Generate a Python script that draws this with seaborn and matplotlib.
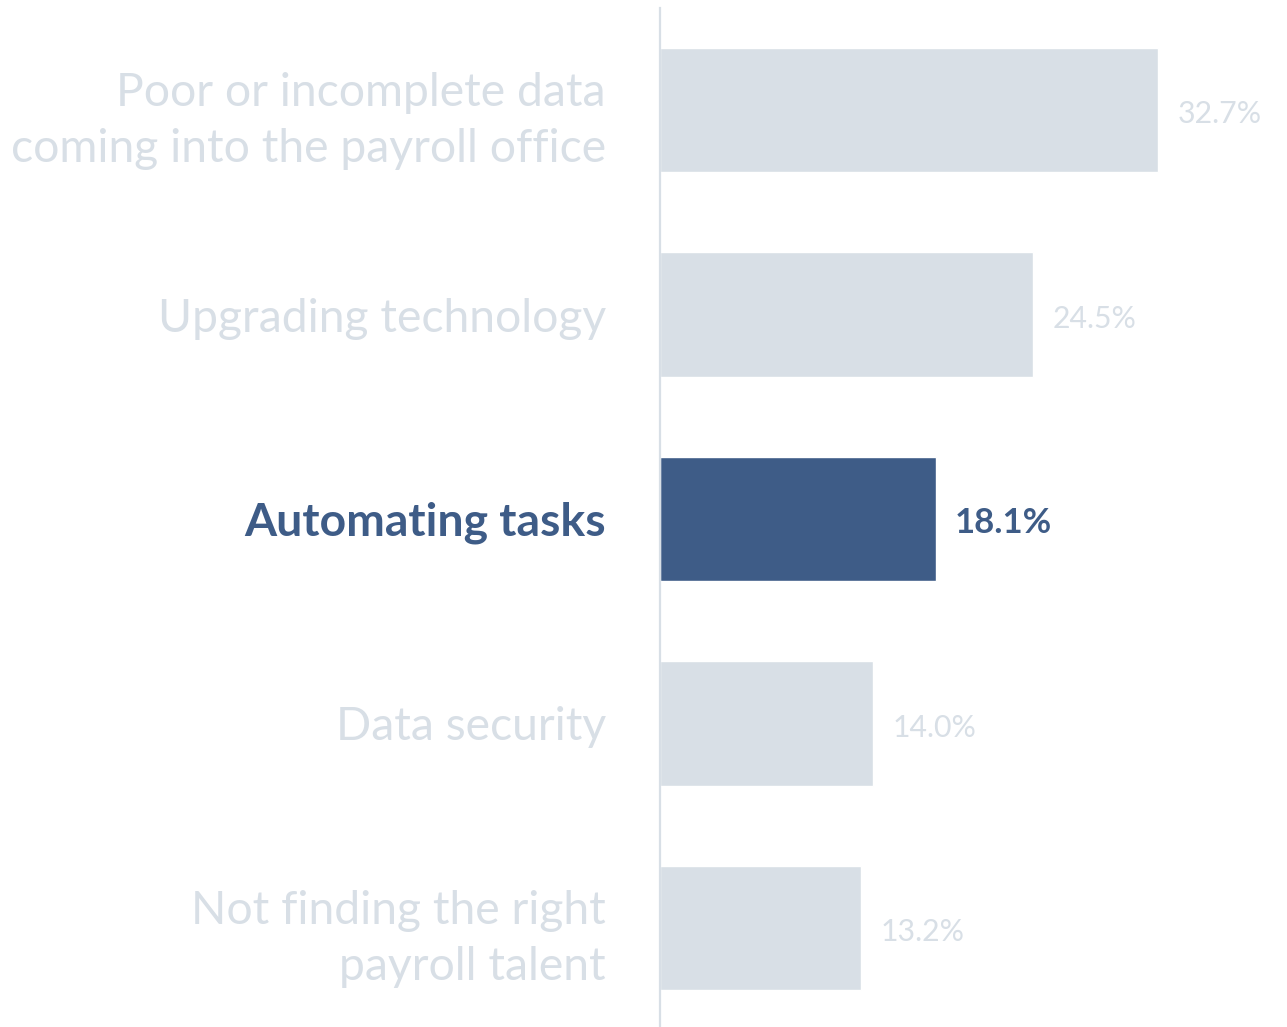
import matplotlib
matplotlib.use("Agg")
import matplotlib.pyplot as plt
import seaborn as sns
import pandas as pd

categories = [
    "Poor or incomplete data\ncoming into the payroll office",
    "Upgrading technology",
    "Automating tasks",
    "Data security",
    "Not finding the right\npayroll talent",
]
values = [32.7, 24.5, 18.1, 14.0, 13.2]
highlight = "Automating tasks"

LIGHT = "#d8dfe6"
DARK = "#3e5c87"

df = pd.DataFrame({"category": categories, "value": values})
df["group"] = ["hi" if c == highlight else "lo" for c in categories]

sns.set_theme(style="white")
plt.rcParams["font.family"] = ["Lato", "DejaVu Sans"]

W, H = 1287, 1027
fig = plt.figure(figsize=(W / 100, H / 100), dpi=100)
ax_left, ax_right = 660 / W, 1.0
ax_top, ax_bot = 7.75, 1030.25
ax = fig.add_axes([ax_left, 1 - ax_bot / H, ax_right - ax_left, (ax_bot - ax_top) / H])

sns.barplot(data=df, x="value", y="category", hue="group",
            palette={"hi": DARK, "lo": LIGHT}, width=0.607,
            dodge=False, legend=False, saturation=1, ax=ax)

ax.set_xlim(0, (W - 660) / 15.23)
ax.set_ylim(4.5, -0.5)
ax.set_xlabel("")
ax.set_ylabel("")
ax.set_xticks([])
for s in ["top", "right", "bottom"]:
    ax.spines[s].set_visible(False)
ax.spines["left"].set_color(LIGHT)
ax.spines["left"].set_linewidth(1.6)

ax.tick_params(axis="y", length=0, pad=39)
ax.set_yticks(range(len(categories)))
ax.set_yticklabels(categories, fontsize=33.3, linespacing=1.4)
for lbl, cat in zip(ax.get_yticklabels(), categories):
    if cat == highlight:
        lbl.set_color(DARK)
        lbl.set_fontweight("bold")
    else:
        lbl.set_color(LIGHT)

for cat, val in zip(categories, values):
    hi = cat == highlight
    ax.annotate(f"{val:.1f}%", xy=(val, categories.index(cat)), xytext=(14, -3),
                textcoords="offset points", va="center", ha="left",
                fontsize=25 if hi else 21.8, color=DARK if hi else LIGHT,
                fontweight="bold" if hi else "normal")

fig.savefig("out.png", dpi=100)
